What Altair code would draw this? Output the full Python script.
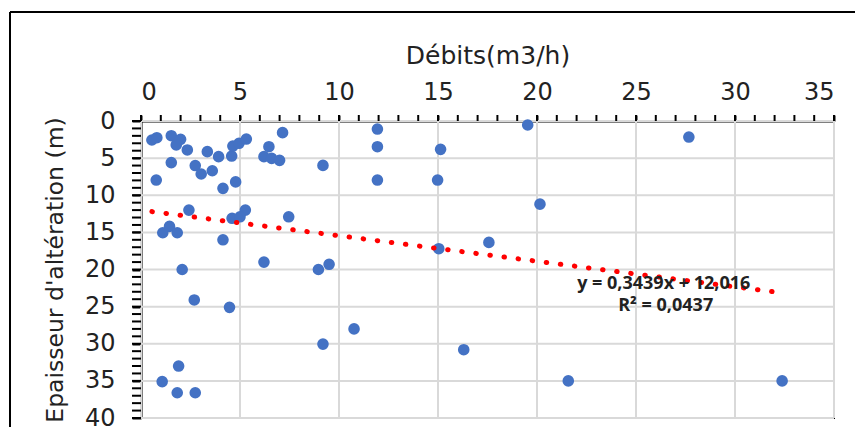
import altair as alt
import pandas as pd

# Data
debits = [0.55, 0.8, 1.53, 2.0, 1.78, 2.34, 1.53, 0.77, 2.74, 3.04, 3.6, 3.35, 3.92, 4.14,
          4.58, 4.64, 4.95, 5.32, 4.78, 6.21, 6.46, 6.6, 7.0, 7.15, 9.19, 2.42, 5.27, 1.1,
          1.44, 1.83, 4.6, 5.0, 7.46, 4.14, 2.08, 6.21, 8.96, 9.5, 2.69, 4.47, 9.19, 1.9,
          1.07, 1.83, 2.74, 11.94, 11.94, 11.94, 15.13, 14.98, 19.53, 20.15, 15.04, 17.57,
          10.76, 16.3, 27.67, 21.58, 32.38]
epaisseur = [2.56, 2.25, 1.98, 2.47, 3.23, 3.9, 5.6, 7.95, 6.0, 7.14, 6.7, 4.13, 4.8, 9.07,
             4.72, 3.37, 3.0, 2.43, 8.2, 4.8, 3.46, 5.03, 5.3, 1.57, 5.98, 12.0, 12.0, 15.05,
             14.2, 15.05, 13.1, 12.9, 12.9, 16.0, 20.0, 19.0, 20.0, 19.3, 24.1, 25.1, 30.05, 33.0,
             35.1, 36.6, 36.6, 1.08, 3.46, 7.95, 3.82, 7.95, 0.54, 11.2, 17.2, 16.35,
             28.0, 30.8, 2.16, 35.0, 35.0]

trend_x = [0.55, 32.38]
trend_y = [12.2, 23.15]

ann_text = ["y = 0,3439x + 12,016", "R² = 0,0437"]
ann_x = [26.4, 26.5]
ann_y = [21.95, 24.95]

x_major = [0, 5, 10, 15, 20, 25, 30, 35]
y_major = [0, 5, 10, 15, 20, 25, 30, 35, 40]
x_minor = list(range(0, 36))
y_minor = list(range(0, 41))

df = pd.DataFrame({"x": debits, "y": epaisseur})
trend = pd.DataFrame({"x": trend_x, "y": trend_y})
ann = pd.DataFrame({"t": ann_text, "x": ann_x, "y": ann_y})
xmin_df = pd.DataFrame({"x": x_minor})
ymin_df = pd.DataFrame({"y": y_minor})
xgrid_df = pd.DataFrame({"x": x_major})
ygrid_df = pd.DataFrame({"y": y_major})

xscale = alt.Scale(domain=[0, 35], nice=False, zero=False)
yscale = alt.Scale(domain=[0, 40], nice=False, zero=False, reverse=True)

xaxis = alt.Axis(
    orient="top", values=x_major, title="Débits(m3/h)", labelOverlap=False, grid=False,
    tickSize=6, labelPadding=11, titlePadding=12,
    labelFontSize=24, titleFontSize=25,
)
yaxis = alt.Axis(
    orient="left", values=y_major, title="Epaisseur d'altération (m)", labelOverlap=False,
    grid=False, tickSize=9, labelPadding=17, titlePadding=17,
    labelFontSize=24, titleFontSize=23.5,
)

X = alt.X("x:Q", scale=xscale, axis=xaxis)
Y = alt.Y("y:Q", scale=yscale, axis=yaxis)

xgrid = alt.Chart(xgrid_df).mark_rule(color="#d9d9d9", strokeWidth=2).encode(x=X)
ygrid = alt.Chart(ygrid_df).mark_rule(color="#d9d9d9", strokeWidth=2).encode(y=Y)

points = alt.Chart(df).mark_circle(size=135, opacity=1, color="#4472C4").encode(x=X, y=Y)

line = alt.Chart(trend).mark_line(
    color="#FF0000", strokeWidth=5, strokeDash=[0.5, 13.7], strokeCap="round"
).encode(x=X, y=Y)

text = alt.Chart(ann).mark_text(
    font="Open Sans", fontWeight="bold", fontSize=18, color="#222222"
).encode(x=X, y=Y, text="t:N")

xminor = alt.Chart(xmin_df).mark_rule(color="black", strokeWidth=2).encode(
    x=X, y=alt.value(-6), y2=alt.value(0)
)
yminor = alt.Chart(ymin_df).mark_rule(color="black", strokeWidth=2).encode(
    y=Y, x=alt.value(-9), x2=alt.value(0)
)

frame_data = alt.Data(values=[{}])
top_rule = alt.Chart(frame_data).mark_rule(color="black", strokeWidth=2).encode(
    x=alt.value(-131), x2=alt.value(730), y=alt.value(-109)
)
left_rule = alt.Chart(frame_data).mark_rule(color="black", strokeWidth=2).encode(
    x=alt.value(-131), y=alt.value(-109), y2=alt.value(330)
)

chart = alt.layer(xgrid, ygrid, points, line, text, xminor, yminor, top_rule, left_rule).properties(
    width=693, height=297,
    autosize=alt.AutoSizeParams(type="none"),
    padding={"left": 133, "top": 113, "right": 21, "bottom": 9},
    background="white",
).configure_view(
    stroke="black", strokeWidth=2
).configure_axis(
    labelFont="DejaVu Sans", titleFont="DejaVu Sans",
    labelColor="#222222", titleColor="#222222",
    titleFontWeight="normal",
    domainColor="black", domainWidth=2,
    tickColor="black", tickWidth=2,
)

chart.save("out.html", embed_options={"renderer": "svg", "actions": False})
